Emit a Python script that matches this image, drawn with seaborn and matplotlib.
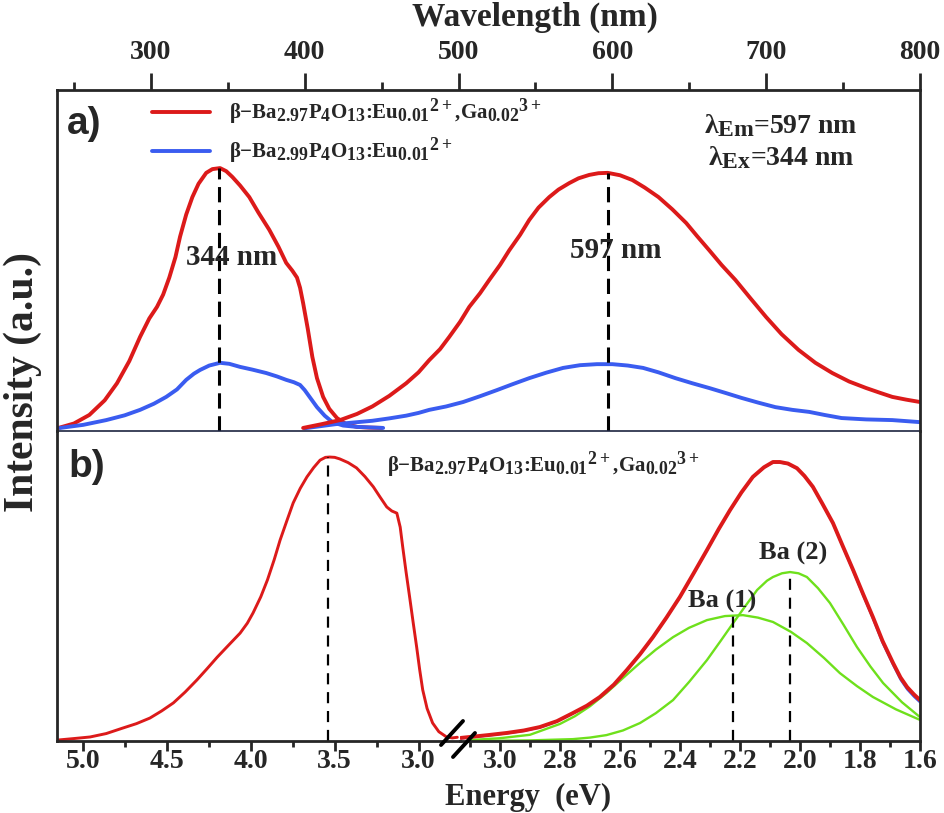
import numpy as np
import matplotlib.pyplot as plt
import seaborn as sns
from matplotlib.ticker import MultipleLocator, NullLocator
from matplotlib.lines import Line2D

try:
    import matplotlib._mathtext as _mt
    _mt.SHRINK_FACTOR = 0.85  # subscripts in the reference are almost full size
except Exception:
    pass

sns.set_style('ticks')
plt.rcParams['font.family'] = ['Liberation Serif', 'DejaVu Serif']
plt.rcParams['font.weight'] = 'bold'
plt.rcParams['mathtext.fontset'] = 'custom'
plt.rcParams['mathtext.rm'] = 'Liberation Serif:bold'
plt.rcParams['mathtext.bf'] = 'Liberation Serif:bold'
plt.rcParams['mathtext.it'] = 'Liberation Serif:bold'
plt.rcParams['mathtext.default'] = 'bf'

# panel a) excitation / emission vs wavelength (nm), normalised intensity
ex_nm = [240, 250, 260, 270, 278, 286, 293, 299, 304, 308, 312, 316, 319, 323, 327, 331, 336, 340, 345, 349, 353,
         358, 364, 370, 377, 383, 388, 392, 395, 397, 399, 402, 405, 408, 412, 416, 421, 427, 434, 442, 450]
ex_red = [0.009, 0.022, 0.047, 0.09, 0.14, 0.205, 0.276, 0.33, 0.364, 0.40, 0.45, 0.51, 0.57, 0.635, 0.686, 0.725,
          0.757, 0.768, 0.771, 0.762, 0.745, 0.72, 0.686, 0.64, 0.59, 0.54, 0.493, 0.47, 0.45, 0.42, 0.375, 0.30,
          0.217, 0.155, 0.10, 0.065, 0.038, 0.02, 0.012, 0.01, 0.009]
ex_nm_blue = [241, 256, 271, 283, 293, 302, 310, 317, 323, 328, 332, 338, 345, 351, 358, 366, 375, 382, 388, 393,
              397, 400, 404, 408, 413, 418, 425, 434, 451]
ex_blue = [0.009, 0.018, 0.032, 0.046, 0.062, 0.08, 0.10, 0.122, 0.15, 0.168, 0.179, 0.192, 0.20, 0.197, 0.188,
           0.18, 0.17, 0.16, 0.15, 0.143, 0.135, 0.12, 0.095, 0.07, 0.045, 0.026, 0.016, 0.012, 0.009]

em_nm = [399, 411, 423, 434, 444, 455, 466, 474, 481, 488, 494, 501, 507, 514, 520, 527, 533, 540, 546, 552, 559,
         565, 572, 578, 585, 591, 597, 605, 613, 621, 630, 639, 648, 655, 663, 671, 680, 690, 700, 710, 721, 732,
         743, 754, 765, 774, 782, 791, 800]
em_red = [0.009, 0.02, 0.032, 0.05, 0.072, 0.103, 0.14, 0.172, 0.208, 0.24, 0.276, 0.32, 0.364, 0.404, 0.443,
          0.487, 0.53, 0.575, 0.619, 0.655, 0.686, 0.708, 0.727, 0.741, 0.751, 0.756, 0.757, 0.75, 0.736, 0.714,
          0.686, 0.65, 0.61, 0.572, 0.53, 0.487, 0.443, 0.388, 0.334, 0.284, 0.238, 0.20, 0.17, 0.145, 0.126,
          0.112, 0.10, 0.092, 0.085]
em_nm_blue = [400, 410, 420, 432, 444, 455, 466, 474, 481, 492, 503, 514, 525, 535, 546, 557, 568, 579, 590, 600,
              610, 620, 630, 641, 652, 663, 674, 684, 695, 706, 717, 728, 738, 749, 765, 782, 800]
em_blue = [0.008, 0.014, 0.02, 0.025, 0.03, 0.037, 0.045, 0.053, 0.062, 0.072, 0.085, 0.102, 0.12, 0.137, 0.155,
           0.171, 0.185, 0.193, 0.196, 0.196, 0.192, 0.185, 0.172, 0.155, 0.14, 0.126, 0.111, 0.097, 0.083, 0.07,
           0.062, 0.056, 0.047, 0.038, 0.034, 0.032, 0.026]

ex_peak_nm = 344
em_peak_nm = 597

# panel b) same sample vs energy (eV), broken axis
ex_ev = [5.15, 5.05, 4.956, 4.86, 4.76, 4.68, 4.6, 4.53, 4.46, 4.39, 4.32, 4.26, 4.2, 4.13, 4.063, 4.02, 3.986,
         3.94, 3.9, 3.86, 3.825, 3.785, 3.747, 3.705, 3.665, 3.625, 3.587, 3.555, 3.53, 3.5, 3.47, 3.42, 3.37,
         3.32, 3.27, 3.23, 3.19, 3.16, 3.13, 3.11, 3.095, 3.075, 3.054, 3.033, 3.012, 2.994, 2.976, 2.95, 2.917,
         2.88, 2.834, 2.8, 2.77]
ex_ev_red = [0.003, 0.008, 0.013, 0.024, 0.042, 0.056, 0.074, 0.097, 0.123, 0.158, 0.197, 0.233, 0.27, 0.31,
             0.348, 0.38, 0.413, 0.465, 0.52, 0.585, 0.648, 0.71, 0.768, 0.815, 0.852, 0.882, 0.906, 0.915, 0.916,
             0.915, 0.91, 0.898, 0.881, 0.853, 0.82, 0.787, 0.755, 0.742, 0.735, 0.69, 0.626, 0.545, 0.465, 0.383,
             0.303, 0.23, 0.165, 0.105, 0.058, 0.03, 0.013, 0.01, 0.012]
ex_peak_ev = 3.54

em_ev = [3.13, 3.1, 3.04, 2.977, 2.92, 2.867, 2.81, 2.757, 2.71, 2.667, 2.62, 2.577, 2.533, 2.49, 2.445, 2.4,
         2.355, 2.31, 2.27, 2.233, 2.195, 2.157, 2.12, 2.09, 2.067, 2.04, 2.01, 1.985, 1.957, 1.925, 1.89, 1.857,
         1.823, 1.79, 1.757, 1.725, 1.69, 1.665, 1.643, 1.62, 1.6]
em_ev_red = [0.01, 0.013, 0.019, 0.026, 0.034, 0.045, 0.064, 0.09, 0.114, 0.142, 0.182, 0.229, 0.28, 0.335,
             0.398, 0.465, 0.54, 0.616, 0.685, 0.745, 0.802, 0.852, 0.883, 0.9, 0.9, 0.895, 0.88, 0.855, 0.82,
             0.765, 0.703, 0.628, 0.552, 0.475, 0.40, 0.323, 0.252, 0.205, 0.174, 0.15, 0.132]
em_ev_fit = [0.008, 0.011, 0.017, 0.024, 0.032, 0.043, 0.062, 0.088, 0.112, 0.14, 0.18, 0.227, 0.278, 0.333,
             0.396, 0.463, 0.538, 0.614, 0.683, 0.743, 0.8, 0.85, 0.881, 0.898, 0.898, 0.893, 0.878, 0.853, 0.818,
             0.763, 0.7, 0.625, 0.548, 0.47, 0.394, 0.316, 0.245, 0.197, 0.166, 0.142, 0.124]

ba1_ev = [3.1, 3.0, 2.9, 2.8, 2.75, 2.7, 2.645, 2.59, 2.533, 2.48, 2.423, 2.37, 2.31, 2.25, 2.19, 2.14, 2.09, 2.03,
          1.977, 1.92, 1.867, 1.81, 1.757, 1.68, 1.6]
ba1 = [0.003, 0.009, 0.02, 0.055, 0.08, 0.112, 0.155, 0.203, 0.252, 0.295, 0.335, 0.365, 0.39, 0.403, 0.406,
       0.398, 0.384, 0.352, 0.316, 0.268, 0.219, 0.177, 0.142, 0.102, 0.068]
ba2_ev = [3.1, 2.9, 2.757, 2.7, 2.645, 2.59, 2.533, 2.48, 2.423, 2.37, 2.31, 2.265, 2.223, 2.18, 2.143, 2.11, 2.09,
          2.06, 2.033, 2.005, 1.977, 1.94, 1.9, 1.855, 1.81, 1.765, 1.723, 1.66, 1.6]
ba2 = [0.0, 0.002, 0.006, 0.011, 0.019, 0.034, 0.058, 0.09, 0.132, 0.19, 0.261, 0.322, 0.38, 0.438, 0.487, 0.517,
       0.529, 0.541, 0.545, 0.541, 0.529, 0.493, 0.445, 0.375, 0.303, 0.24, 0.187, 0.125, 0.077]
ba1_peak_ev = 2.223
ba2_peak_ev = 2.033

RED = '#dc1a1a'
BLUE = '#3a5cf0'
GREEN = '#6ee01c'

W, H = 945, 813


def fx(px):
    return px / W


def fy(py):
    return 1 - py / H


fig = plt.figure(figsize=(9.45, 8.13), dpi=100)
ax_a = fig.add_axes([fx(57), fy(431), fx(920 - 57), (431 - 90) / H])
ax_b1 = fig.add_axes([fx(57), fy(741), fx(460 - 57), (741 - 431) / H])
ax_b2 = fig.add_axes([fx(460), fy(741), fx(920 - 460), (741 - 431) / H])

lab_red = 'β−Ba$_{2.97}$P$_{4}$O$_{13}$:Eu$_{0.01}$$^{2+}$,Ga$_{0.02}$$^{3+}$'
lab_blue = 'β−Ba$_{2.99}$P$_{4}$O$_{13}$:Eu$_{0.01}$$^{2+}$'

# a) wavelength panel
sns.lineplot(x=ex_nm, y=ex_red, ax=ax_a, color=RED, lw=2.8, sort=False, estimator=None, label=lab_red)
sns.lineplot(x=ex_nm_blue, y=ex_blue, ax=ax_a, color=BLUE, lw=2.8, sort=False, estimator=None, label=lab_blue)
sns.lineplot(x=em_nm_blue, y=em_blue, ax=ax_a, color=BLUE, lw=2.8, sort=False, estimator=None)
sns.lineplot(x=em_nm, y=em_red, ax=ax_a, color=RED, lw=2.8, sort=False, estimator=None)
ax_a.plot([ex_peak_nm, ex_peak_nm], [0, max(ex_red)], color='black', ls=(0, (5, 2.5)), lw=2.2)
ax_a.plot([em_peak_nm, em_peak_nm], [0, max(em_red)], color='black', ls=(0, (5, 2.5)), lw=2.2)

ax_a.set_xlim(239, 800)
ax_a.set_ylim(0, 1)
ax_a.xaxis.tick_top()
ax_a.xaxis.set_major_locator(MultipleLocator(100))
ax_a.xaxis.set_minor_locator(MultipleLocator(50))
ax_a.yaxis.set_major_locator(NullLocator())
ax_a.tick_params(axis='x', which='major', length=12, width=2, labelsize=20, pad=6)
ax_a.tick_params(axis='x', which='minor', length=6, width=2)
ax_a.set_xlabel('')
ax_a.set_ylabel('')
for s in ['top', 'left', 'right']:
    ax_a.spines[s].set_linewidth(2)
ax_a.spines['bottom'].set_linewidth(1.2)
ax_a.spines['bottom'].set_color('#1c2440')

ax_a.legend(loc='upper left', bbox_to_anchor=(0.11, 0.98), frameon=False, fontsize=15,
            handlelength=2.8, handletextpad=0.9, borderaxespad=0, borderpad=0, labelspacing=0.45)

ax_a.text(352.5, 0.51, '344 nm', fontsize=21, fontweight='bold', ha='center', va='center')
ax_a.text(602.5, 0.53, '597 nm', fontsize=21, fontweight='bold', ha='center', va='center')
fig.text(fx(781), fy(133), 'λ$_{Em}$=597 nm', fontsize=20, fontweight='bold', ha='center', va='baseline')
fig.text(fx(781), fy(165), 'λ$_{Ex}$=344 nm', fontsize=20, fontweight='bold', ha='center', va='baseline')
fig.text(fx(67), fy(124), 'a)', fontsize=28, fontweight='bold', family='Liberation Sans', ha='left', va='center')
fig.text(fx(535), fy(17), 'Wavelength (nm)', fontsize=24, fontweight='bold', ha='center', va='center')

# b) energy panel, left part (excitation)
sns.lineplot(x=ex_ev, y=ex_ev_red, ax=ax_b1, color=RED, lw=2.1, sort=False, estimator=None)
ax_b1.plot([ex_peak_ev, ex_peak_ev], [0, max(ex_ev_red)], color='black', ls=(0, (5, 3.5)), lw=1.6)
ax_b1.set_xlim(5.153, 2.754)
ax_b1.set_ylim(0, 1)
ax_b1.xaxis.set_major_locator(MultipleLocator(0.5))
ax_b1.xaxis.set_minor_locator(MultipleLocator(0.25))

# right part (emission with two gaussian components)
sns.lineplot(x=ba1_ev, y=ba1, ax=ax_b2, color=GREEN, lw=1.7, sort=False, estimator=None)
sns.lineplot(x=ba2_ev, y=ba2, ax=ax_b2, color=GREEN, lw=1.7, sort=False, estimator=None)
sns.lineplot(x=em_ev, y=em_ev_fit, ax=ax_b2, color=BLUE, lw=1.4, sort=False, estimator=None)
sns.lineplot(x=em_ev, y=em_ev_red, ax=ax_b2, color=RED, lw=2.8, sort=False, estimator=None)
ax_b2.plot([ba1_peak_ev, ba1_peak_ev], [0, max(ba1)], color='black', ls=(0, (5, 3.5)), lw=1.6)
ax_b2.plot([ba2_peak_ev, ba2_peak_ev], [0, max(ba2)], color='black', ls=(0, (5, 3.5)), lw=1.6)
ax_b2.set_xlim(3.133, 1.6)
ax_b2.set_ylim(0, 1)
ax_b2.xaxis.set_major_locator(MultipleLocator(0.2))
ax_b2.xaxis.set_minor_locator(MultipleLocator(0.1))

for ax in (ax_b1, ax_b2):
    ax.yaxis.set_major_locator(NullLocator())
    ax.tick_params(axis='x', which='major', length=7, width=2, labelsize=20, pad=-1)
    ax.tick_params(axis='x', which='minor', length=4, width=2)
    ax.spines['top'].set_visible(False)
    ax.spines['bottom'].set_linewidth(2)
    ax.set_xlabel('')
    ax.set_ylabel('')
    ax.patch.set_alpha(0)
ax_b1.spines['right'].set_visible(False)
ax_b1.spines['left'].set_linewidth(2)
ax_b2.spines['left'].set_visible(False)
ax_b2.spines['right'].set_linewidth(2)

fig.text(fx(722), fy(601), 'Ba (1)', fontsize=19, fontweight='bold', ha='center', va='center')
fig.text(fx(793), fy(553), 'Ba (2)', fontsize=19, fontweight='bold', ha='center', va='center')
fig.text(fx(387), fy(465), lab_red, fontsize=15, fontweight='bold', ha='left', va='center')
fig.text(fx(68), fy(467), 'b)', fontsize=28, fontweight='bold', family='Liberation Sans', ha='left', va='center')

# axis break marks
for cx, cy in [(452, 733), (464, 745)]:
    fig.lines.append(Line2D([fx(cx - 11), fx(cx + 11)], [fy(cy + 12), fy(cy - 12)], transform=fig.transFigure,
                            color='black', lw=2.8))

fig.text(fx(528), fy(797), 'Energy  (eV)', fontsize=22, fontweight='bold', ha='center', va='center')
fig.text(fx(23), fy(382), 'Intensity (a.u.)', fontsize=30, fontweight='bold', rotation=90, ha='center', va='center')

fig.savefig('out.png', dpi=100)
